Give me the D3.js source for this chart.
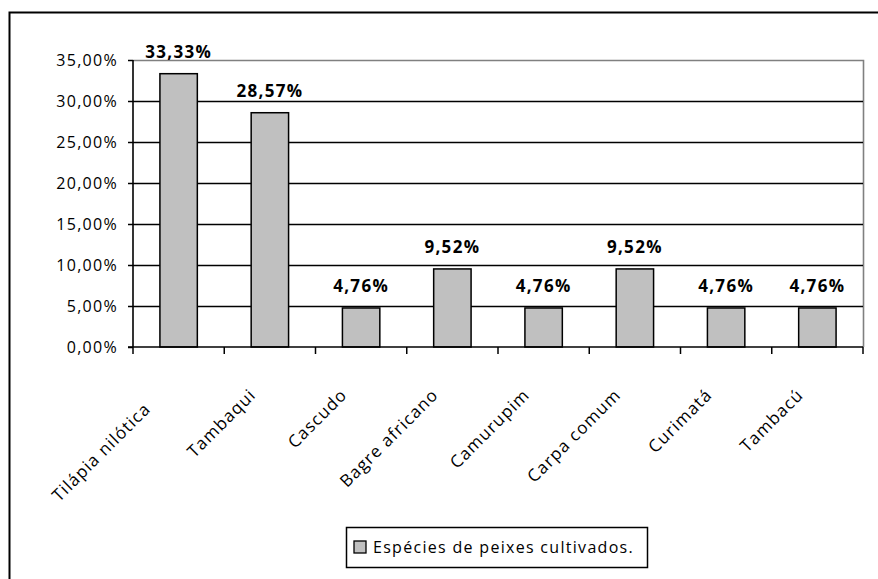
<!DOCTYPE html>
<html>
<head>
<meta charset="utf-8">
<script src="https://cdn.jsdelivr.net/npm/d3@7/dist/d3.min.js"></script>
<style>
  html, body { margin: 0; padding: 0; background: #fff; }
  svg { display: block; }
  text { font-family: "Open Sans", sans-serif; fill: #000; letter-spacing: 1.3px; }
</style>
</head>
<body>
<svg id="chart" width="878" height="579"></svg>
<script>
// Espécies cultivadas e participação de cada uma (%)
const categories = ["Tilápia nilótica", "Tambaqui", "Cascudo", "Bagre africano",
                    "Camurupim", "Carpa comum", "Curimatá", "Tambacú"];
const values = [33.33, 28.57, 4.76, 9.52, 4.76, 9.52, 4.76, 4.76];
const yTicks = [0, 5, 10, 15, 20, 25, 30, 35];
const seriesName = "Espécies de peixes cultivados.";

const fmt = v => v.toFixed(2).replace(".", ",") + "%";

const svg = d3.select("#chart");
const W = 878, H = 579;
const plot = { left: 133, top: 60, right: 863, bottom: 347 };

// outer chart frame (runs off the right and bottom edges)
svg.append("path")
  .attr("d", `M9.5,${H + 5} V12.5 H${W + 5}`)
  .attr("fill", "none")
  .attr("stroke", "#000")
  .attr("stroke-width", 2);

const x = d3.scaleBand().domain(categories).range([plot.left, plot.right]).paddingInner(0.59).paddingOuter(0.295);
const xb = d3.scaleBand().domain(categories).range([plot.left, plot.right]);
const y = d3.scaleLinear().domain([0, 35]).range([plot.bottom, plot.top]);

// plot area border (grey top and right)
svg.append("path")
  .attr("d", `M${plot.left},${plot.top + 0.5} H${plot.right + 0.5} V${plot.bottom}`)
  .attr("fill", "none")
  .attr("stroke", "#808080")
  .attr("stroke-width", 1.6);

// horizontal gridlines
svg.append("g")
  .selectAll("line")
  .data(yTicks.filter(t => t > 0 && t < 35))
  .join("line")
  .attr("x1", plot.left).attr("x2", plot.right)
  .attr("y1", d => Math.round(y(d)) + 0.5).attr("y2", d => Math.round(y(d)) + 0.5)
  .attr("stroke", "#000")
  .attr("stroke-width", 1.3);

// bars
svg.append("g")
  .selectAll("rect")
  .data(values)
  .join("rect")
  .attr("x", (d, i) => x(categories[i]))
  .attr("width", x.bandwidth())
  .attr("y", d => y(d))
  .attr("height", d => plot.bottom - y(d))
  .attr("fill", "#c0c0c0")
  .attr("stroke", "#000")
  .attr("stroke-width", 1.5);

// value labels
svg.append("g")
  .selectAll("text")
  .data(values)
  .join("text")
  .attr("x", (d, i) => x(categories[i]) + x.bandwidth() / 2)
  .attr("y", d => y(d) - 16)
  .attr("text-anchor", "middle")
  .attr("font-weight", "bold")
  .attr("font-size", 17)
  .text(d => fmt(d));

// y axis
const yAxis = d3.axisLeft(y).tickValues(yTicks).tickSize(5).tickPadding(10)
  .tickFormat(d => fmt(d));
const gy = svg.append("g").attr("transform", `translate(${plot.left},0)`).call(yAxis);
gy.select(".domain").attr("stroke", "#000").attr("stroke-width", 1.6).attr("d", `M0,${plot.top}V${plot.bottom}`);
gy.selectAll(".tick line").attr("stroke", "#000").attr("stroke-width", 1.5);
gy.selectAll(".tick text").attr("font-family", "Open Sans").attr("font-size", 16).attr("fill", "#000");

// x axis: ticks at category boundaries
const gx = svg.append("g");
gx.append("line")
  .attr("x1", plot.left - 5).attr("x2", plot.right)
  .attr("y1", plot.bottom).attr("y2", plot.bottom)
  .attr("stroke", "#000").attr("stroke-width", 1.6);
gx.selectAll("line.tick")
  .data(categories.concat([null]))
  .join("line")
  .attr("class", "tick")
  .attr("x1", (d, i) => i < categories.length ? xb(d) : plot.right)
  .attr("x2", (d, i) => i < categories.length ? xb(d) : plot.right)
  .attr("y1", plot.bottom).attr("y2", plot.bottom + 7)
  .attr("stroke", "#000").attr("stroke-width", 1.5);

// rotated category labels
gx.selectAll("text")
  .data(categories)
  .join("text")
  .attr("transform", (d, i) => {
    const cx = xb(d) + xb.bandwidth() / 2 - 13 - (i === 0 ? 14 : 0);
    const cy = 396 + (i === 0 ? 14 : 0);
    return `translate(${cx},${cy}) rotate(-45)`;
  })
  .attr("text-anchor", "end")
  .attr("font-size", 17)
  .style("letter-spacing", "1.1px")
  .text(d => d);

// legend
const lg = svg.append("g");
lg.append("rect")
  .attr("x", 346.5).attr("y", 527.5).attr("width", 301).attr("height", 40)
  .attr("fill", "#fff").attr("stroke", "#000").attr("stroke-width", 1.5);
lg.append("rect")
  .attr("x", 354).attr("y", 541).attr("width", 12).attr("height", 12)
  .attr("fill", "#c0c0c0").attr("stroke", "#000").attr("stroke-width", 1.3);
lg.append("text")
  .attr("x", 373).attr("y", 553)
  .attr("font-size", 16)
  .text(seriesName);
</script>
</body>
</html>
